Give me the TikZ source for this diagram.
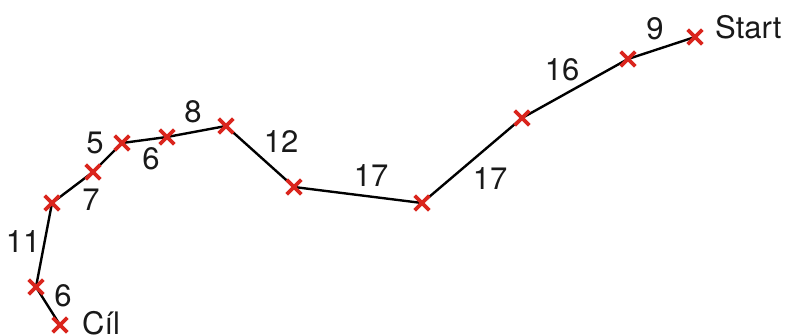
\documentclass[tikz,border=0pt]{standalone}
\usepackage{fontspec}
\setmainfont{TeX Gyre Heros}
\usetikzlibrary{shapes.misc}
\definecolor{mred}{RGB}{218,37,29}
\tikzset{
  xmark/.style={cross out, draw=mred, line width=3.6pt, minimum size=11pt, inner sep=0pt},
  route/.style={draw=black, line width=2.4pt, line join=round},
  lbl/.style={font=\fontsize{31}{31}\selectfont, inner sep=0pt, text=black!90}
}
\begin{document}
\begin{tikzpicture}[x=1pt,y=-1pt]
\useasboundingbox (0,0) rectangle (786,336);
\coordinate (p0) at (695,37);
\coordinate (p1) at (628,59);
\coordinate (p2) at (522,118);
\coordinate (p3) at (422,203);
\coordinate (p4) at (294,187);
\coordinate (p5) at (226,126);
\coordinate (p6) at (167,137);
\coordinate (p7) at (122,143);
\coordinate (p8) at (93,172);
\coordinate (p9) at (52,203);
\coordinate (p10) at (36,287);
\coordinate (p11) at (60,325);
\draw[route] (p0) -- (p1) -- (p2) -- (p3) -- (p4) -- (p5) -- (p6) -- (p7) -- (p8) -- (p9) -- (p10) -- (p11);
\foreach \i in {0,...,11} \node[xmark] (x\i) at (p\i) {};
\node[lbl] (l9) at (655,29) {9};
\node[lbl] (l16) at (562,70) {16};
\node[lbl] (l17a) at (490,179) {17};
\node[lbl] (l17b) at (371,176) {17};
\node[lbl] (l12) at (281,142) {12};
\node[lbl] (l8) at (193,112) {8};
\node[lbl] (l6a) at (151,159) {6};
\node[lbl] (l5) at (95,143) {5};
\node[lbl] (l7) at (91,200) {7};
\node[lbl] (l11) at (23,242) {11};
\node[lbl] (l6b) at (63,296) {6};
\node[lbl, anchor=west] (start) at (715,27) {Start};
\node[lbl, anchor=west] (cil) at (82,323) {Cíl};
\end{tikzpicture}
\end{document}
